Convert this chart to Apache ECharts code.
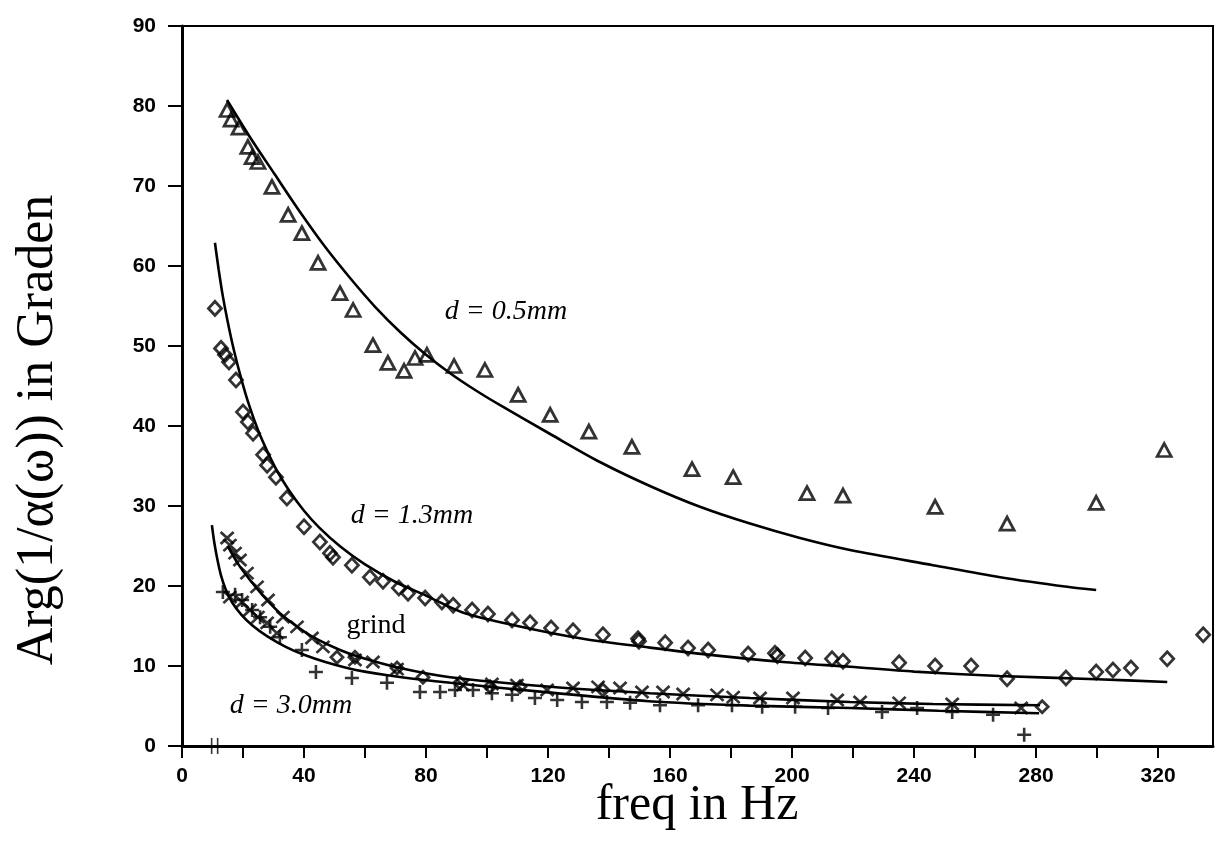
<!DOCTYPE html>
<html><head><meta charset="utf-8">
<script src="https://cdn.jsdelivr.net/npm/echarts@6/dist/echarts.min.js"></script>
<style>html,body{margin:0;padding:0;background:#fff}#c{width:1217px;height:864px}</style>
</head><body><div id="c"></div>
<script>
// ---- tick labels ----
const xTickLabels = ['0','40','80','120','160','200','240','280','320'];
const yTickLabels = ['0','10','20','30','40','50','60','70','80','90'];

// ---- measured points [freq Hz, degrees] ----
const tri05 = [[14.8,79.5],[16.1,78.3],[18.7,77.3],[21.6,74.9],[23.0,73.6],[24.9,73.0],[29.5,69.9],[34.8,66.4],[39.3,64.1],[44.6,60.4],[51.8,56.6],[56.1,54.5],[62.6,50.1],[67.5,47.9],[72.8,46.9],[76.4,48.5],[80.3,48.9],[89.2,47.5],[99.3,47.0],[110.2,43.9],[120.7,41.4],[133.4,39.3],[147.5,37.4],[167.2,34.6],[180.7,33.6],[204.9,31.6],[216.7,31.3],[246.9,29.9],[270.5,27.8],[299.7,30.4],[322.0,37.0]];
const dia13 = [[10.8,54.7],[12.8,49.7],[14.1,48.9],[15.4,48.0],[17.7,45.75],[20.0,41.75],[21.6,40.5],[23.3,39.1],[26.6,36.4],[27.9,35.1],[30.8,33.6],[34.4,31.0],[40.0,27.4],[45.2,25.5],[48.5,24.1],[49.5,23.6],[55.7,22.6],[61.6,21.1],[65.9,20.6],[71.1,19.75],[74.1,19.1],[79.7,18.5],[85.2,18.0],[88.9,17.6],[95.1,17.0],[100.3,16.5],[108.2,15.75],[114.1,15.4],[121.0,14.75],[128.2,14.4],[138.0,13.9],[149.5,13.4],[149.8,13.1],[158.4,12.9],[165.9,12.25],[172.5,12.0],[185.6,11.5],[194.4,11.6],[195.2,11.3],[204.3,11.0],[213.1,10.9],[216.7,10.6],[235.1,10.4],[246.9,10.0],[258.7,10.0],[270.5,8.4],[289.8,8.5],[299.7,9.25],[305.2,9.5],[311.1,9.75],[323.0,10.9],[334.8,13.9]];
const crossGrind = [[14.8,26.0],[15.7,25.1],[17.4,24.1],[19.0,23.25],[21.3,21.6],[24.6,19.9],[28.2,18.25],[33.1,16.1],[37.7,14.9],[42.6,13.5],[46.2,12.4],[56.7,10.75],[62.6,10.5],[15.7,18.6],[19.7,18.0],[22.3,17.0],[24.9,16.1],[27.9,15.4],[31.1,14.1],[70.5,9.6],[92.1,7.6],[101.6,7.75],[109.8,7.6],[119.7,7.0],[128.2,7.25],[136.4,7.4],[143.6,7.25],[150.8,6.75],[157.7,6.75],[164.3,6.5],[175.4,6.4],[180.7,6.1],[189.5,6.0],[200.3,6.0],[214.8,5.75],[222.3,5.5],[235.1,5.4],[252.5,5.25],[275.1,4.75]];
const plus30 = [[13.4,19.25],[17.4,18.9],[19.7,18.25],[23.0,17.0],[25.6,16.1],[28.9,14.9],[32.1,13.6],[39.3,12.0],[43.9,9.25],[55.7,8.5],[67.2,7.9],[78.0,6.75],[84.6,6.75],[89.5,7.0],[95.4,7.0],[101.6,6.6],[108.2,6.4],[115.7,6.0],[123.0,5.75],[131.1,5.5],[139.3,5.5],[146.9,5.4],[156.7,5.1],[169.2,5.1],[180.3,5.1],[190.2,4.9],[201.0,4.9],[211.8,4.75],[229.5,4.25],[241.0,4.75],[252.5,4.25],[265.9,3.9],[276.1,1.4]];
const diaLow = [[50.8,11.1],[56.7,11.1],[70.5,9.75],[79.0,8.6],[91.1,7.9],[101.0,7.4],[110.8,7.4],[138.0,7.0],[282.0,4.9]];
const breakMark = [[10.7,0]];

// ---- fitted curves ----
const curve05 = [[14.75,80.75],[22.3,76.1],[30.5,71.4],[38.7,66.75],[46.9,62.4],[55.1,58.5],[63.3,54.9],[71.5,51.75],[79.7,49.0],[87.9,46.6],[96.1,44.5],[104.3,42.6],[120.7,39.0],[137.0,35.5],[153.4,32.5],[169.8,29.9],[186.2,27.8],[202.6,26.0],[219.0,24.5],[246.2,22.6],[268.2,21.1],[290.2,19.9],[299.7,19.5]];
const curve13 = [[10.8,62.9],[12.0,59.6],[13.4,56.2],[15.0,53.0],[17.0,49.5],[19.5,45.8],[22.0,42.6],[25.0,39.4],[28.0,36.8],[31.0,34.5],[35.0,32.0],[40.0,29.4],[45.0,27.3],[52.0,24.9],[60.0,22.7],[70.0,20.5],[80.0,18.8],[92.0,16.7],[110.0,15.0],[131.5,13.4],[153.4,12.3],[175.4,11.3],[197.0,10.5],[219.0,9.9],[240.0,9.3],[268.0,8.75],[300.0,8.35],[323.0,8.0]];
const curveGrind = [[15.0,25.0],[18.5,22.7],[22.3,20.75],[27.0,18.6],[32.1,16.6],[37.5,15.0],[43.0,13.6],[51.8,12.0],[58.4,11.1],[71.5,9.75],[87.9,8.6],[120.7,7.4],[153.4,6.6],[186.2,6.0],[219.0,5.5],[246.2,5.25],[281.3,5.1]];
const curve30 = [[9.8,27.6],[10.6,25.4],[11.6,23.3],[12.8,21.3],[14.3,19.6],[16.5,17.9],[19.5,16.4],[23.0,15.1],[28.0,13.7],[34.0,12.4],[40.0,11.4],[47.0,10.5],[57.0,9.5],[72.0,8.6],[88.0,7.9],[120.0,6.7],[153.0,5.6],[186.0,5.05],[219.0,4.75],[248.0,4.4],[281.0,4.1]];

const chart = echarts.init(document.getElementById('c'), null, {renderer:'canvas'});
const tickFont = {fontFamily:'Liberation Sans, Arial, sans-serif', fontWeight:'bold', fontSize:21, color:'#000'};
const serif = 'Liberation Serif, Times New Roman, serif';
const lineS = {color:'#000', width:2.6};
function curve(data){return {type:'line', data, smooth:0.3, symbol:'none', lineStyle:lineS, silent:true, z:2};}
const hollow = {color:'rgba(0,0,0,0)', borderColor:'#000', borderWidth:2.8};
const stroke = {color:'rgba(0,0,0,0)', borderColor:'#000', borderWidth:2.6};

chart.setOption({
  animation:false,
  backgroundColor:'#fff',
  grid:{left:182, right:4, top:26, bottom:118, show:true, borderColor:'#000', borderWidth:2},
  xAxis:{type:'value', min:0, max:338, interval:20,
    axisLine:{onZero:false, lineStyle:{color:'#000', width:3}},
    axisTick:{show:true, length:12, lineStyle:{color:'#000', width:2}},
    splitLine:{show:false},
    axisLabel:Object.assign({margin:20, showMaxLabel:false,
      formatter:v=>{const s=String(v);return xTickLabels.indexOf(s)>=0?s:'';}}, tickFont)
  },
  yAxis:{type:'value', min:0, max:90, interval:10,
    axisLine:{lineStyle:{color:'#000', width:3}},
    axisTick:{show:true, length:14, lineStyle:{color:'#000', width:2}},
    splitLine:{show:false},
    axisLabel:Object.assign({margin:26, formatter:v=>{const s=String(v);return yTickLabels.indexOf(s)>=0?s:'';}}, tickFont)
  },
  graphic:[
    {type:'text', x:697, y:806, style:{text:'freq in Hz', font:'50px '+serif, fill:'#000', align:'center', verticalAlign:'middle'}},
    {type:'text', x:38, y:430, rotation:Math.PI/2, style:{text:'Arg(1/α(ω)) in Graden', font:'52px '+serif, fill:'#000', align:'center', verticalAlign:'middle'}},
    {type:'text', x:506, y:312, style:{text:'d = 0.5mm', font:'italic 28px '+serif, fill:'#000', align:'center', verticalAlign:'middle'}},
    {type:'text', x:412, y:516, style:{text:'d = 1.3mm', font:'italic 28px '+serif, fill:'#000', align:'center', verticalAlign:'middle'}},
    {type:'text', x:376, y:626, style:{text:'grind', font:'28px '+serif, fill:'#000', align:'center', verticalAlign:'middle'}},
    {type:'text', x:291, y:706, style:{text:'d = 3.0mm', font:'italic 28px '+serif, fill:'#000', align:'center', verticalAlign:'middle'}}
  ],
  series:[
    curve(curve05), curve(curve13), curve(curveGrind), curve(curve30),
    {type:'scatter', data:tri05, symbol:'triangle', symbolSize:[14,13], itemStyle:hollow, z:3},
    {type:'scatter', data:dia13, symbol:'diamond', symbolSize:[13,14], itemStyle:hollow, z:3},
    {type:'scatter', data:diaLow, symbol:'diamond', symbolSize:[12,12], itemStyle:hollow, z:3},
    {type:'scatter', data:crossGrind, symbol:'path://M0,0 L10,10 M10,0 L0,10', symbolSize:[13,12], itemStyle:stroke, z:3},
    {type:'scatter', data:plus30, symbol:'path://M0,5 L10,5 M5,0 L5,10', symbolSize:[14,14], itemStyle:stroke, z:3},
    {type:'scatter', data:breakMark, symbol:'path://M0,0 L0,10 M5,0 L5,10', symbolSize:[6,16], itemStyle:stroke, z:4}
  ]
});
</script></body></html>
